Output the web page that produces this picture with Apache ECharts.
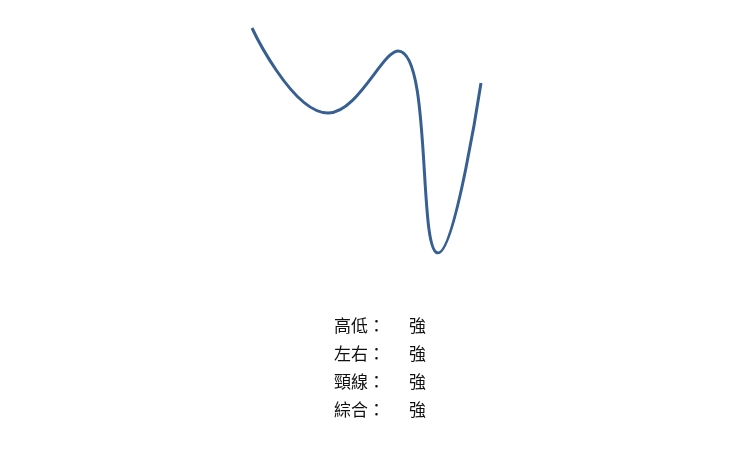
<!DOCTYPE html>
<html>
<head>
<meta charset="utf-8">
<script src="https://cdn.jsdelivr.net/npm/echarts@6/dist/echarts.min.js"></script>
<style>
  html, body { margin: 0; padding: 0; background: #fff; }
  #main { width: 740px; height: 452px; }
</style>
</head>
<body>
<div id="main"></div>
<script>
// curve turning points (x position, height)
var xs = [0, 76, 146, 186, 229];
var ys = [225, 140, 202, 0, 170];

var labels = ['高低：', '左右：', '頸線：', '綜合：'];
var ratings = ['強', '強', '強', '強'];

var myChart = echarts.init(document.getElementById('main'));

var data = xs.map(function (x, i) { return [x, ys[i]]; });

var graphic = [];
labels.forEach(function (name, i) {
    var y = 317 + i * 28;
    graphic.push({
        type: 'text', left: 334, top: y,
        style: { text: name, fontSize: 17, fill: '#111', fontFamily: 'Noto Sans CJK TC' }
    });
    graphic.push({
        type: 'text', left: 409, top: y,
        style: { text: ratings[i], fontSize: 17, fill: '#111', fontFamily: 'Noto Sans CJK TC' }
    });
});

var option = {
    animation: false,
    grid: { left: 252, right: 259, top: 28, bottom: 199 },
    xAxis: { type: 'value', min: 0, max: 229, show: false },
    yAxis: { type: 'value', min: 0, max: 225, show: false },
    graphic: graphic,
    series: [{
        type: 'line',
        data: data,
        smooth: 0.45,
        symbol: 'none',
        lineStyle: { color: '#375f91', width: 3 }
    }]
};
myChart.setOption(option);
</script>
</body>
</html>
